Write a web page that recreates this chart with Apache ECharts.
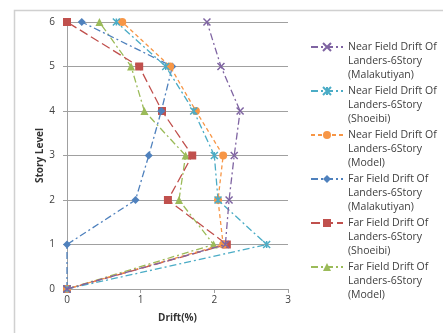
<!DOCTYPE html>
<html><head><meta charset="utf-8">
<script src="https://cdn.jsdelivr.net/npm/echarts@6/dist/echarts.min.js"></script>
<style>html,body{margin:0;padding:0;background:#fff}#c{width:443px;height:333px}</style>
</head><body><div id="c"></div>
<script>
var stories = [0, 1, 2, 3, 4, 5, 6];
var seriesNames = [
  'Near Field Drift Of\nLanders-6Story\n(Malakutiyan)',
  'Near Field Drift Of\nLanders-6Story\n(Shoeibi)',
  'Near Field Drift Of\nLanders-6Story\n(Model)',
  'Far Field Drift Of\nLanders-6Story\n(Malakutiyan)',
  'Far Field Drift Of\nLanders-6Story\n(Shoeibi)',
  'Far Field Drift Of\nLanders-6Story\n(Model)'
];
var nearMalakutiyan = [0, 2.15, 2.20, 2.27, 2.35, 2.09, 1.90];
var nearShoeibi     = [0, 2.71, 2.05, 2.00, 1.72, 1.34, 0.67];
var nearModel       = [0, 2.12, 2.05, 2.12, 1.75, 1.40, 0.75];
var farMalakutiyan  = [0, 0, 0.93, 1.11, 1.28, 1.43, 0.20];
var farShoeibi      = [0, 2.17, 1.37, 1.70, 1.29, 0.98, 0];
var farModel        = [0, 1.99, 1.52, 1.61, 1.05, 0.87, 0.44];
var xTicks = [0, 1, 2, 3];

var colors = ['#7F64A2', '#4BACC6', '#F79646', '#4F81BD', '#C0504D', '#9BBB59'];
var symbols = [
  'path://M0,0L10,10M10,0L0,10',
  'path://M0,0L10,10M10,0L0,10M5,0L5,10',
  'circle', 'diamond', 'rect', 'triangle'
];
var sizes = [7, 7, 8, 8, 8, 8];
var allData = [nearMalakutiyan, nearShoeibi, nearModel, farMalakutiyan, farShoeibi, farModel];
var dashes = [[7,3,2,3],[7,3,2,3],[4,3],[7,3,2,3],[9,4],[7,3,2,3]];

var series = allData.map(function (vals, i) {
  var stroke = i < 2;
  return {
    name: seriesNames[i],
    type: 'line',
    data: vals.map(function (v, k) { return [v, stories[k]]; }),
    symbol: symbols[i],
    symbolSize: sizes[i],
    color: colors[i],
    lineStyle: { width: 1.3, type: dashes[i], color: colors[i] },
    itemStyle: stroke ? { color: 'transparent', borderColor: colors[i], borderWidth: 1.5 } : { color: colors[i] },
    z: 10 - i
  };
});

var chart = echarts.init(document.getElementById('c'), null, { renderer: 'canvas' });
chart.setOption({
  animation: false,
  backgroundColor: '#fff',
  graphic: [{
    type: 'rect', shape: { x: 14.5, y: 10.5, width: 440, height: 330 },
    style: { fill: 'none', stroke: '#D0D0D0', lineWidth: 1.5 }, silent: true, z: -1
  }],
  grid: { left: 67, top: 22, right: 155, bottom: 44 },
  xAxis: {
    type: 'value', min: 0, max: 3, interval: 1,
    name: 'Drift(%)', nameLocation: 'middle', nameGap: 24,
    nameTextStyle: { fontFamily: 'Open Sans', fontWeight: 'bold', fontSize: 10, color: '#333' },
    axisLine: { show: true, lineStyle: { color: '#A0A0A0' } },
    axisTick: { show: true, length: 4, lineStyle: { color: '#A0A0A0' } },
    axisLabel: { fontFamily: 'Open Sans', fontSize: 10, color: '#404040', margin: 6,
      formatter: function (v) { return xTicks.indexOf(v) >= 0 ? String(v) : ''; } },
    splitLine: { show: false }
  },
  yAxis: {
    type: 'value', min: 0, max: 6, interval: 1,
    name: 'Story Level', nameLocation: 'middle', nameGap: 22, nameRotate: 90,
    nameTextStyle: { fontFamily: 'Open Sans', fontWeight: 'bold', fontSize: 10, color: '#333' },
    axisLine: { show: true, lineStyle: { color: '#A0A0A0' } },
    axisTick: { show: true, length: 4, lineStyle: { color: '#A0A0A0' } },
    axisLabel: { fontFamily: 'Open Sans', fontSize: 10, color: '#404040', margin: 12 },
    splitLine: { show: true, lineStyle: { color: '#A0A0A0', width: 1 } }
  },
  legend: {
    orient: 'vertical', left: 305, top: 7,
    itemWidth: 32, itemHeight: 10, itemGap: -26,
    data: seriesNames,
    formatter: function (n) { return '\n\n' + n; },
    textStyle: { fontFamily: 'Open Sans', fontSize: 10.5, color: '#404040', lineHeight: 14 }
  },
  series: series
});
</script></body></html>
